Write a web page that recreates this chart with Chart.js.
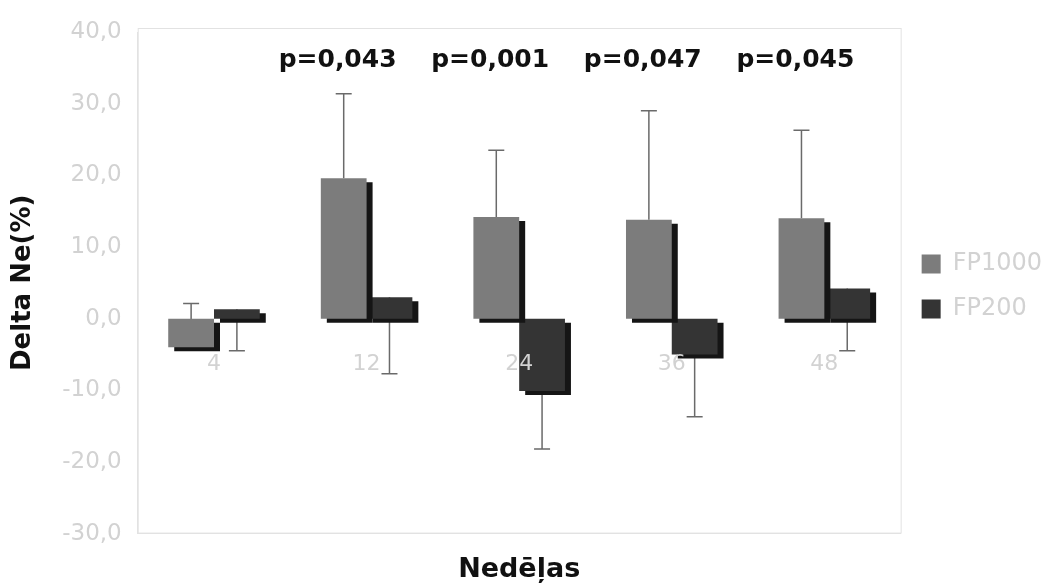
<!DOCTYPE html>
<html lang="lv">
<head>
  <meta charset="UTF-8">
  <title>Delta Ne(%)</title>
  <script src="https://cdn.jsdelivr.net/npm/chart.js"></script>
  <style>
    body { margin: 0; background: #fff; }
    #chart { display: block; }
  </style>
</head>
<body>
  <canvas id="chart" width="1054" height="588"></canvas>
  <script>
    // dati
    const weeks = ['4', '12', '24', '36', '48'];
    const fp1000 = [-4.0, 19.6, 14.2, 13.8, 14.0];
    const fp200 = [1.3, 3.0, -10.1, -5.0, 4.2];
    const fp1000ErrPlus = [6.1, 11.8, 9.3, 15.2, 12.3];   // kļūdas uz augšu
    const fp200ErrMinus = [5.8, 10.7, 8.1, 8.7, 8.7];     // kļūdas uz leju
    const pValues = ['', 'p=0,043', 'p=0,001', 'p=0,047', 'p=0,045'];

    const lightText = '#d2d2d2';
    const lineGray = '#e2e2e2';

    // kļūdu stabiņi + 3D ēna
    const barsPlugin = {
      id: 'bars3d',
      beforeDatasetsDraw(chart) {
        const ctx = chart.ctx;
        const y = chart.scales.y;
        const errs = [fp1000ErrPlus.map(v => v), fp200ErrMinus.map(v => -v)];
        ctx.save();
        ctx.strokeStyle = '#6a6a6a';
        ctx.lineWidth = 1.5;
        chart.data.datasets.forEach((ds, di) => {
          const meta = chart.getDatasetMeta(di);
          meta.data.forEach((bar, i) => {
            const v = ds.data[i];
            const y0 = y.getPixelForValue(v);
            const y1 = y.getPixelForValue(v + errs[di][i]);
            ctx.beginPath();
            ctx.moveTo(bar.x, y0);
            ctx.lineTo(bar.x, y1);
            ctx.moveTo(bar.x - 8, y1);
            ctx.lineTo(bar.x + 8, y1);
            ctx.stroke();
          });
        });
        ctx.restore();
        ctx.save();
        ctx.shadowColor = '#151515';
        ctx.shadowOffsetX = 6;
        ctx.shadowOffsetY = 4;
        ctx.shadowBlur = 0;
      },
      afterDatasetsDraw(chart) {
        chart.ctx.restore();
      },
      beforeDraw(chart) {
        const a = chart.chartArea;
        const ctx = chart.ctx;
        ctx.save();
        ctx.strokeStyle = lineGray;
        ctx.lineWidth = 1;
        ctx.strokeRect(a.left + 0.5, a.top - 3.5, a.right - a.left, a.bottom - a.top + 3);
        ctx.restore();
      },
      afterDraw(chart) {
        const ctx = chart.ctx;
        const x = chart.scales.x;
        const y = chart.scales.y;
        ctx.save();
        ctx.fillStyle = '#111';
        ctx.font = 'bold 25px "DejaVu Sans"';
        ctx.textAlign = 'center';
        ctx.textBaseline = 'middle';
        pValues.forEach((p, i) => {
          if (p) ctx.fillText(p, x.getPixelForValue(i - 0.19), y.getPixelForValue(36.0));
        });
        ctx.restore();
      }
    };

    new Chart(document.getElementById('chart'), {
      type: 'bar',
      data: {
        labels: weeks,
        datasets: [
          { label: 'FP1000', data: fp1000, backgroundColor: '#7c7c7c' },
          { label: 'FP200', data: fp200, backgroundColor: '#343434' }
        ]
      },
      options: {
        responsive: false,
        animation: false,
        layout: { padding: { top: 32, right: 2, left: 4, bottom: 2 } },
        datasets: {
          bar: { categoryPercentage: 0.6, barPercentage: 1.0 }
        },
        scales: {
          x: {
            position: { y: 0 },
            grid: { display: false },
            border: { display: false },
            ticks: { z: 1, color: lightText, padding: 24, font: { family: 'DejaVu Sans', size: 22 } }
          },
          x2: {
            type: 'category',
            labels: weeks,
            position: 'bottom',
            grid: { display: false },
            border: { color: lineGray },
            ticks: { display: false },
            title: {
              display: true, text: 'Nedēļas', color: '#111',
              font: { family: 'DejaVu Sans', size: 27, weight: 'bold' }, padding: { top: 12, bottom: 0 }
            }
          },
          y: {
            min: -30,
            max: 40,
            grid: { display: false },
            border: { color: lineGray },
            ticks: {
              stepSize: 10,
              color: lightText,
              padding: 8,
              font: { family: 'DejaVu Sans', size: 23 },
              callback: v => v.toFixed(1).replace('.', ',')
            },
            title: {
              display: true, text: 'Delta Ne(%)', color: '#111',
              font: { family: 'DejaVu Sans', size: 26, weight: 'bold' }, padding: { top: 4, bottom: 15 }
            }
          }
        },
        plugins: {
          legend: {
            position: 'right',
            labels: {
              boxWidth: 19, boxHeight: 19, padding: 21, color: lightText,
              font: { family: 'DejaVu Sans', size: 24 },
              // tukša rinda apakšā, lai leģenda paceltos pie grafika vidus
              generateLabels(chart) {
                const items = Chart.defaults.plugins.legend.labels.generateLabels(chart);
                items.push({ text: '', fillStyle: 'rgba(0,0,0,0)', strokeStyle: 'rgba(0,0,0,0)', lineWidth: 0, hidden: false });
                return items;
              }
            }
          },
          tooltip: { enabled: false }
        }
      },
      plugins: [barsPlugin]
    });
  </script>
</body>
</html>
